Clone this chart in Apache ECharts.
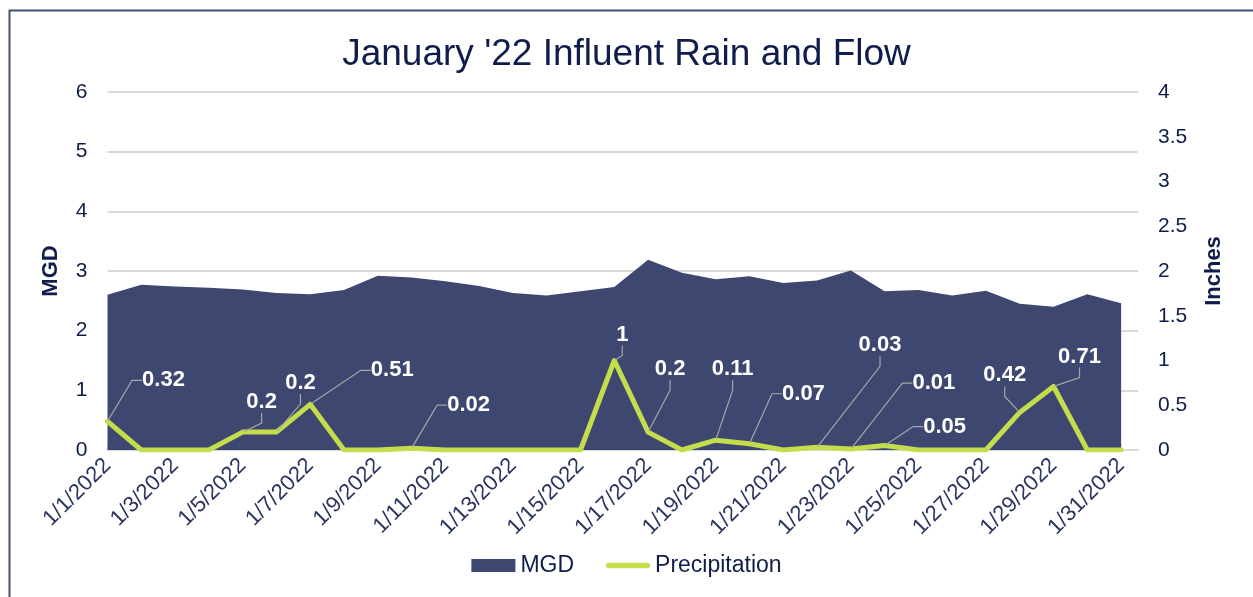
<!DOCTYPE html>
<html>
<head>
<meta charset="utf-8">
<script src="https://cdn.jsdelivr.net/npm/echarts@6/dist/echarts.min.js"></script>
<style>
html,body{margin:0;padding:0;background:#fff;}
#chart{width:1253px;height:597px;}
</style>
</head>
<body>
<div id="chart"></div>
<script>
// ---- data ----
const dates = ['1/1/2022','1/2/2022','1/3/2022','1/4/2022','1/5/2022','1/6/2022','1/7/2022','1/8/2022','1/9/2022','1/10/2022',
  '1/11/2022','1/12/2022','1/13/2022','1/14/2022','1/15/2022','1/16/2022','1/17/2022','1/18/2022','1/19/2022','1/20/2022',
  '1/21/2022','1/22/2022','1/23/2022','1/24/2022','1/25/2022','1/26/2022','1/27/2022','1/28/2022','1/29/2022','1/30/2022','1/31/2022'];
const mgd = [2.60,2.77,2.74,2.72,2.69,2.63,2.61,2.68,2.92,2.89,2.83,2.75,2.63,2.59,2.66,2.73,3.19,2.97,2.86,2.91,2.80,2.84,3.01,2.66,2.68,2.59,2.67,2.45,2.40,2.61,2.46];
const precipitation = [0.32,0,0,0,0.2,0.2,0.51,0,0,0.02,0,0,0,0,0,1,0.2,0,0.11,0.07,0,0.03,0.01,0.05,0,0,0,0.42,0.71,0,0];
const leftTicks = [0,1,2,3,4,5,6];
const rightTicks = [0,0.5,1,1.5,2,2.5,3,3.5,4];

// label offsets (style only): index -> [dx, dy]
const labelOffsets = {0:[56,-24],4:[19,-13],5:[24,-32],6:[82,-17],9:[57,-26],15:[8,-9],16:[22,-46],
  18:[17,-54],19:[54,-33],21:[63,-85],22:[83,-49],23:[60,-2],27:[-15,-20],28:[26,-13]};

const NAVY = '#101c4b';
const FONT = "'Liberation Sans', Arial, sans-serif";

const chart = echarts.init(document.getElementById('chart'), null, {renderer:'canvas'});
const option = {
  animation: false,
  backgroundColor: '#fff',
  title: {
    text: "January '22 Influent Rain and Flow",
    left: 'center', top: 31,
    textStyle: {fontFamily: FONT, fontSize: 37, fontWeight: 'normal', color: NAVY}
  },
  graphic: [{
    type: 'rect', left: 7, top: 8, silent: true,
    shape: {width: 1320, height: 640},
    style: {fill: 'none', stroke: '#44507a', lineWidth: 2}
  }],
  legend: {
    bottom: 15, left: 'center',
    itemWidth: 44, itemHeight: 13, itemGap: 32,
    symbolKeepAspect: true,
    textStyle: {fontFamily: FONT, fontSize: 23, color: NAVY},
    data: [
      {name: 'MGD', icon: 'rect'},
      {name: 'Precipitation', icon: 'path://M3,0 L47,0 A3,3 0 0 1 47,6 L3,6 A3,3 0 0 1 3,0 Z'}
    ]
  },
  grid: {left: 107.5, right: 115, top: 92, bottom: 147, containLabel: false},
  xAxis: {
    type: 'value', min: 0, max: 30.5, interval: 2,
    axisLine: {show: true, lineStyle: {color: '#d9d9d9', width: 2}},
    axisTick: {show: true, inside: true, length: 6, lineStyle: {color: '#d9d9d9', width: 1.5}},
    splitLine: {show: false},
    axisLabel: {
      rotate: 45, margin: 12, showMaxLabel: false,
      fontFamily: FONT, fontSize: 22, color: '#2a3560',
      formatter: v => dates[v] || ''
    }
  },
  yAxis: [{
    type: 'value', min: 0, max: 6, interval: 1,
    name: 'MGD', nameLocation: 'middle', nameGap: 46, nameRotate: 90,
    nameTextStyle: {fontFamily: FONT, fontSize: 22, fontWeight: 'bold', color: NAVY},
    axisLine: {show: false}, axisTick: {show: false},
    axisLabel: {margin: 20, fontFamily: FONT, fontSize: 21, color: NAVY,
      formatter: v => leftTicks.includes(v) ? String(v) : ''},
    splitLine: {show: true, lineStyle: {color: '#d9d9d9', width: 2}}
  }, {
    type: 'value', min: 0, max: 4, interval: 0.5, position: 'right',
    name: 'Inches', nameLocation: 'middle', nameGap: 65, nameRotate: 90,
    nameTextStyle: {fontFamily: FONT, fontSize: 22, fontWeight: 'bold', color: NAVY},
    axisLine: {show: false}, axisTick: {show: false},
    axisLabel: {margin: 20, fontFamily: FONT, fontSize: 21, color: NAVY,
      formatter: v => rightTicks.includes(v) ? String(v) : ''},
    splitLine: {show: false}
  }],
  series: [{
    name: 'MGD', type: 'line', yAxisIndex: 0,
    data: mgd.map((v, i) => [i, v]),
    symbol: 'none', lineStyle: {width: 0, color: '#3d4770'},
    itemStyle: {color: '#3d4770'},
    areaStyle: {color: '#3d4770', opacity: 1},
    z: 1
  }, {
    name: 'Precipitation', type: 'line', yAxisIndex: 1,
    data: precipitation.map((v, i) => ({value: [i, v], label: {show: v > 0}})),
    symbol: 'circle', symbolSize: 2, showSymbol: true,
    lineStyle: {width: 5, color: '#c4dd4c', cap: 'round', join: 'round'},
    itemStyle: {color: '#c4dd4c'},
    label: {
      show: false, position: 'top', distance: 5,
      fontFamily: FONT, fontSize: 22, fontWeight: 'bold', color: '#ffffff',
      formatter: p => String(p.value[1])
    },
    labelLine: {show: true, length2: 10, lineStyle: {color: '#a6a6a6', width: 1.2}},
    labelLayout: function (params) {
      const o = labelOffsets[params.dataIndex];
      return o ? {dx: o[0], dy: o[1]} : {};
    },
    z: 3
  }]
};
chart.setOption(option);
</script>
</body>
</html>
